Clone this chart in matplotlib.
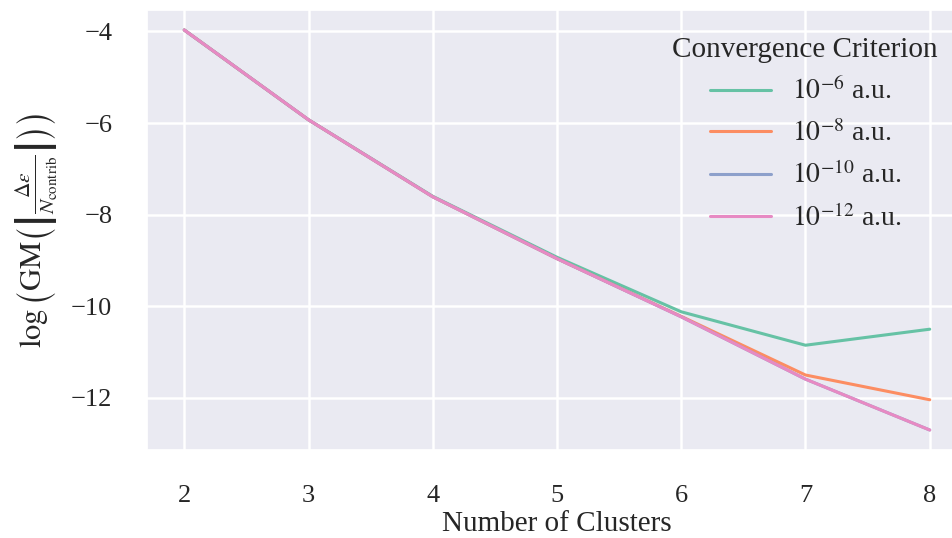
import matplotlib
matplotlib.use("Agg")
import matplotlib.pyplot as plt
import seaborn as sns

# log geometric mean of |dE / N_contrib| per cluster count
clusters = [2, 3, 4, 5, 6, 7, 8]
crit_labels = [r"$10^{-6}$ a.u.", r"$10^{-8}$ a.u.", r"$10^{-10}$ a.u.", r"$10^{-12}$ a.u."]
err_1e6 = [-3.97, -5.93, -7.60, -8.93, -10.12, -10.85, -10.50]
err_1e8 = [-3.97, -5.93, -7.61, -8.96, -10.22, -11.50, -12.04]
err_1e10 = [-3.97, -5.93, -7.61, -8.96, -10.23, -11.59, -12.70]
err_1e12 = [-3.97, -5.93, -7.61, -8.96, -10.23, -11.59, -12.70]

sns.set_theme(style="darkgrid")
plt.rcParams["font.family"] = ["Liberation Serif", "DejaVu Serif"]
plt.rcParams["mathtext.fontset"] = "stix"
plt.rcParams["grid.linewidth"] = 1.8

colors = sns.color_palette("Set2", 4)

fig = plt.figure(figsize=(9.53, 5.38), dpi=100)
ax = fig.add_axes([147 / 953, 88 / 538, 820 / 953, 440 / 538])

for ys, lab, c in zip([err_1e6, err_1e8, err_1e10, err_1e12], crit_labels, colors):
    ax.plot(clusters, ys, color=c, lw=2.2, label=lab)

ax.set_xticks(clusters)
ax.set_yticks([-4, -6, -8, -10, -12])
ax.set_yticklabels(["\u22124", "\u22126", "\u22128", "\u221210", "\u221212"])
ax.tick_params(labelsize=19, pad=19)
ax.set_xlabel("Number of Clusters", fontsize=21, labelpad=3)
ax.set_ylabel(r"$\log\left(\mathrm{GM}\left(\left|\frac{\Delta\epsilon}{N_{\mathrm{contrib}}}\right|\right)\right)$",
              fontsize=22, labelpad=8)

leg = ax.legend(title="Convergence Criterion", loc="upper right", frameon=False,
                fontsize=20, title_fontsize=21,
                bbox_to_anchor=(963 / 953, 1 - 12 / 538), bbox_transform=fig.transFigure,
                handlelength=2.2, handletextpad=0.75, labelspacing=0.53)

fig.savefig("out.png", dpi=100)
